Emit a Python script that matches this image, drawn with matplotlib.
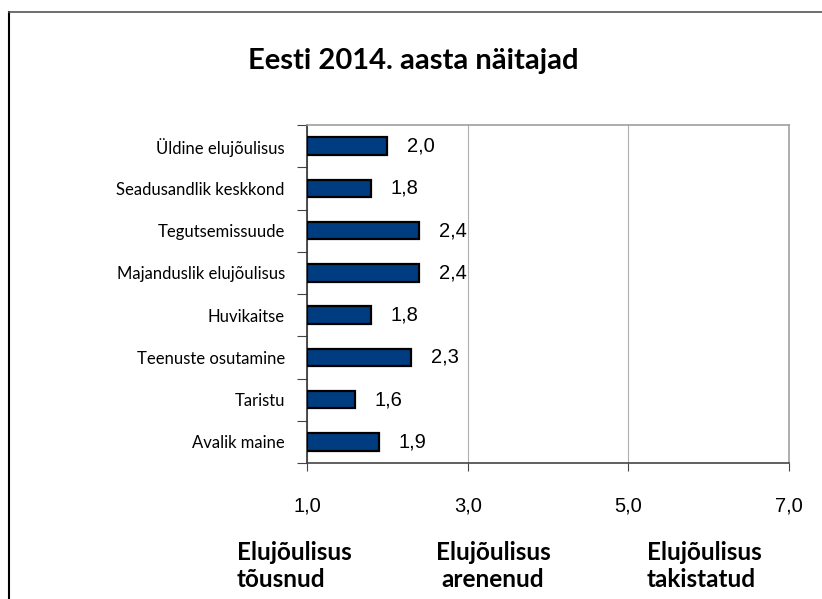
import numpy as np
import matplotlib
matplotlib.use("Agg")
import matplotlib.pyplot as plt

# andmed
kategooriad = ["Üldine elujõulisus", "Seadusandlik keskkond", "Tegutsemissuude",
               "Majanduslik elujõulisus", "Huvikaitse", "Teenuste osutamine",
               "Taristu", "Avalik maine"]
vaartused = [2.0, 1.8, 2.4, 2.4, 1.8, 2.3, 1.6, 1.9]
x_tickid = [1.0, 3.0, 5.0, 7.0]
x_sildid = ["1,0", "3,0", "5,0", "7,0"]
alumised = ["Elujõulisus\ntõusnud", "Elujõulisus\narenenud", "Elujõulisus\ntakistatud"]

fig = plt.figure(figsize=(8.22, 5.99), dpi=100)
ax = fig.add_axes([307/822, 1-463/599, (789-307)/822, (463-125)/599])

y = np.arange(len(kategooriad))
v = np.array(vaartused)
ax.barh(y, v - 1.0, left=1.0, height=0.42, color="#003c80",
        edgecolor="black", linewidth=1.6, zorder=3)

for yi, vi in zip(y, v):
    ax.annotate(f"{vi:.1f}".replace(".", ","), (vi, yi), xytext=(14, 0),
                textcoords="offset points", va="center", ha="left",
                fontsize=14.5, family="Liberation Sans")

ax.set_xlim(1, 7)
ax.set_ylim(len(kategooriad) - 0.5, -0.5)
ax.set_xticks(x_tickid)
ax.set_xticklabels(x_sildid, fontsize=14.5, family="Liberation Sans")
ax.tick_params(axis="x", direction="out", length=6, pad=18, color="#444444")

ax.set_yticks(np.arange(len(kategooriad) + 1) - 0.5)
ax.set_yticklabels([])
ax.set_yticks(y, minor=True)
ax.set_yticklabels(kategooriad, minor=True, fontsize=12, family="Lato")
ax.tick_params(axis="y", which="major", direction="out", length=7, color="#444444")
ax.tick_params(axis="y", which="minor", length=0, pad=16)

ax.grid(axis="x", color="#b0b0b0", linewidth=0.8, zorder=0)
ax.spines["top"].set_color("#a0a0a0")
ax.spines["right"].set_color("#a0a0a0")
ax.spines["left"].set_color("#333333")
ax.spines["bottom"].set_color("#444444")
for s in ax.spines.values():
    s.set_linewidth(1.2)

fig.text(413/822, 1-61/599, "Eesti 2014. aasta näitajad", ha="center", va="center",
         fontsize=21, fontweight="bold", family="Lato")

# alumised selgitused
for xx, tekst, joondus in zip([237, 493, 647], alumised, ["left", "center", "left"]):
    fig.text(xx/822, 1-566/599, tekst, ha=joondus, va="center", fontsize=17.5,
             fontweight="bold", family="Lato", linespacing=1.22, multialignment=joondus)

# raam
fig.add_artist(plt.Line2D([9/822, 9/822], [0, 1-12/599], color="black", linewidth=1.5))
fig.add_artist(plt.Line2D([9/822, 1], [1-12/599, 1-12/599], color="#555555", linewidth=1.2))

fig.savefig("out.png", dpi=100)
